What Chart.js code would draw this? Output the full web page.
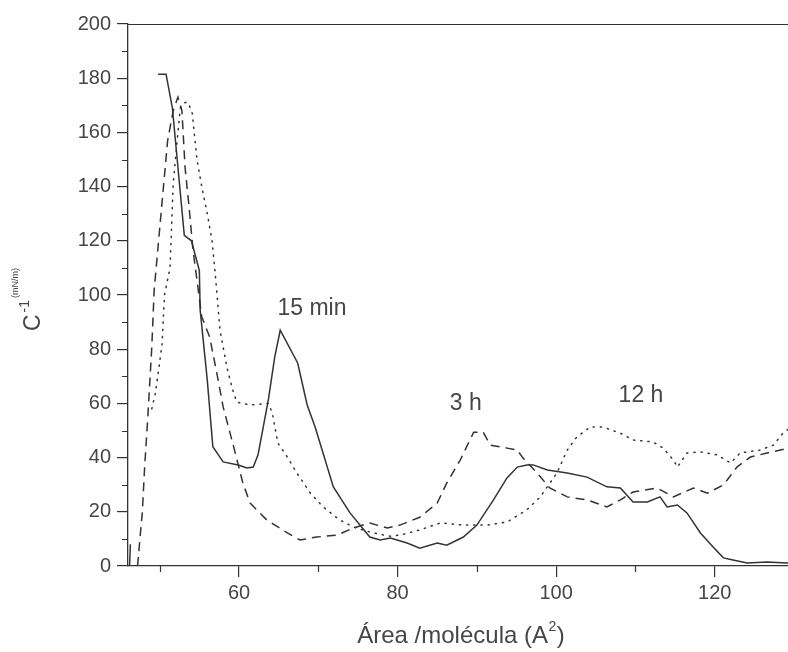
<!DOCTYPE html>
<html>
<head>
<meta charset="utf-8">
<script src="https://cdn.jsdelivr.net/npm/chart.js@4/dist/chart.umd.min.js"></script>
<style>
html,body{margin:0;padding:0;background:#fff;overflow:hidden;}
#wrap{width:800px;height:652px;}
</style>
</head>
<body>
<div id="wrap"><canvas id="c" width="800" height="652"></canvas></div>
<script>
// ---- data ----
const seriesNames = ["15 min", "3 h", "12 h"];

const solidX = [46.2, 46.3, 46.35, 49.8, 50.8, 51.6, 53.1, 54.0, 55.0, 55.1, 56.0, 56.7, 58.0, 59.9, 61.0, 61.8, 62.4, 63.7, 64.5, 65.2, 67.4, 68.6, 69.6, 71.9, 74.0, 76.5, 77.8, 79.1, 81.2, 82.8, 85.0, 86.2, 88.3, 90.0, 92.1, 93.8, 95.1, 96.3, 97.1, 98.9, 101.4, 103.9, 106.4, 108.1, 109.7, 111.5, 113.1, 114.0, 115.3, 116.5, 118.2, 119.8, 121.1, 122.3, 124.1, 126.6, 129.1, 130];
const solidY = [0, 8, null, 181.5, 181.5, 169, 122, 120, 109, 94.5, 68.6, 44, 38.4, 37.3, 36.2, 36.5, 41, 61.3, 77, 87, 74.9, 59.4, 51.3, 29.2, 19.6, 10.7, 9.6, 10.3, 8.5, 6.6, 8.5, 7.7, 10.7, 15.1, 24.4, 32.5, 36.5, 37.3, 37.3, 35.4, 34.3, 32.8, 29.2, 28.8, 23.6, 23.6, 25.5, 21.8, 22.5, 19.6, 12.2, 7, 3, 2.2, 1.1, 1.5, 1.1, 1.0];

const dashedX = [47.2, 47.8, 48.1, 48.5, 49.0, 49.3, 50.4, 51.0, 51.7, 52.3, 52.8, 53.2, 53.7, 54.2, 55.3, 56.3, 57.2, 58.0, 59.2, 60.5, 61.4, 63.5, 66.1, 67.7, 69.8, 72.4, 74.4, 76.5, 78.7, 80.3, 82.8, 85.0, 86.2, 87.9, 89.6, 90.8, 91.7, 93.8, 95.1, 95.8, 97.6, 99.2, 101.4, 103.9, 106.4, 108.1, 109.7, 112.7, 114.8, 117.3, 119.1, 121.1, 122.8, 124.5, 126.6, 128.3, 130];
const dashedY = [0, 19.6, 36.5, 55, 80.8, 101.8, 137.6, 157, 168, 173, 168, 147, 132.5, 116.6, 92, 84.5, 71.2, 58.7, 45.4, 30.5, 23.2, 17, 12.2, 9.6, 10.7, 11.4, 14, 15.9, 14, 15.1, 18, 23.2, 30.6, 39.1, 49.4, 49.4, 44.6, 43.5, 42.8, 39.9, 34.3, 28.8, 25.5, 24.4, 21.8, 24.4, 27.3, 28.8, 25.5, 28.8, 26.9, 29.9, 36.5, 40.2, 41.7, 42.8, 44];

const dottedX = [49.0, 49.4, 49.8, 50.3, 50.6, 51.3, 51.7, 52.2, 52.6, 53.2, 53.6, 54.1, 54.7, 55.3, 56.0, 56.6, 57.0, 57.6, 58.5, 59.2, 59.7, 61.4, 63.7, 64.2, 64.9, 66.1, 67.3, 69.0, 70.6, 72.7, 74.4, 76.9, 79.1, 80.3, 82.8, 85.4, 88.3, 91.3, 93.8, 96.3, 98.0, 100.1, 101.4, 102.6, 104.3, 105.9, 108.1, 109.7, 112.2, 113.5, 114.8, 115.3, 116.5, 118.2, 120.3, 122.0, 123.2, 125.7, 127.4, 128.6, 130];
const dottedY = [58, 63, 71, 82, 100, 110, 141, 157, 169, 171, 171, 167, 150, 140, 130, 120, 108, 87, 73, 65, 60.5, 59.4, 60, 56.5, 45.4, 40.2, 34.3, 26.9, 21.8, 17, 14.4, 12.2, 11, 11.4, 13.3, 15.9, 15.1, 15.1, 16.2, 20.7, 25.5, 34.3, 42.8, 47.6, 51.3, 51.3, 49, 46.5, 45.8, 43.5, 39.1, 36.5, 41.7, 42.1, 41, 38, 41.7, 42.8, 44.6, 49, 52];

const xMajorTicks = [60, 80, 100, 120];
const xMinorTicks = [50, 70, 90, 110, 130];
const yMajorTicks = [0, 20, 40, 60, 80, 100, 120, 140, 160, 180, 200];
const yMinorTicks = [10, 30, 50, 70, 90, 110, 130, 150, 170, 190];

const noteText = ["15 min", "3 h", "12 h"];
const noteX = [69.2, 88.6, 110.7];
const noteY = [95.0, 59.8, 62.7];

const xTitleMain = "Área /molécula (A";
const xTitleSup = "2";
const yTitleMain = "C";
const yTitleSup = "-1";
const yTitleUnit = "(mN/m)";

// ---- chart ----
const FONT = "'Liberation Sans', Arial, sans-serif";
const LINE = '#333333';
const TEXT = '#464646';
const pts = (xs, ys) => xs.map((x, i) => ({x: x, y: ys[i]}));

const extras = {
  id: 'extras',
  afterDraw(chart) {
    const {ctx, chartArea: a, scales: {x, y}} = chart;
    ctx.save();
    ctx.strokeStyle = LINE;
    ctx.lineWidth = 1.2;
    // top frame line
    ctx.beginPath();
    ctx.moveTo(a.left, a.top + 0.5);
    ctx.lineTo(a.right, a.top + 0.5);
    ctx.stroke();
    // minor ticks
    ctx.beginPath();
    xMinorTicks.forEach(v => {
      const px = Math.round(x.getPixelForValue(v)) + 0.5;
      ctx.moveTo(px, a.bottom); ctx.lineTo(px, a.bottom + 6);
    });
    yMinorTicks.forEach(v => {
      const py = Math.round(y.getPixelForValue(v)) + 0.5;
      ctx.moveTo(a.left - 6, py); ctx.lineTo(a.left, py);
    });
    ctx.stroke();

    // annotations
    ctx.fillStyle = TEXT;
    ctx.font = '23px ' + FONT;
    ctx.textAlign = 'center';
    ctx.textBaseline = 'middle';
    noteText.forEach((t, i) => {
      ctx.fillText(t, x.getPixelForValue(noteX[i]), y.getPixelForValue(noteY[i]));
    });

    // x title
    ctx.textBaseline = 'alphabetic';
    ctx.textAlign = 'left';
    ctx.font = '24px ' + FONT;
    const wMain = ctx.measureText(xTitleMain).width;
    ctx.font = '14px ' + FONT;
    const wSup = ctx.measureText(xTitleSup).width;
    ctx.font = '24px ' + FONT;
    const wClose = ctx.measureText(')').width;
    const total = wMain + wSup + 1 + wClose;
    let tx = (a.left + a.right) / 2 - total / 2;
    const base = 643;
    ctx.fillText(xTitleMain, tx, base);
    tx += wMain;
    ctx.font = '14px ' + FONT;
    ctx.fillText(xTitleSup, tx + 0.5, base - 12);
    tx += wSup + 1;
    ctx.font = '24px ' + FONT;
    ctx.fillText(')', tx, base);

    // y title (rotated)
    ctx.translate(40, 331);
    ctx.rotate(-Math.PI / 2);
    ctx.font = '23px ' + FONT;
    ctx.fillText(yTitleMain, 0, 0);
    let rx = ctx.measureText(yTitleMain).width + 2;
    ctx.font = '14px ' + FONT;
    ctx.fillText(yTitleSup, rx, -11);
    rx += ctx.measureText(yTitleSup).width + 2;
    ctx.font = '9px ' + FONT;
    ctx.fillText(yTitleUnit, rx, -22);
    ctx.restore();
  }
};

const ds = (data, dash) => ({
  data: data,
  borderColor: LINE,
  borderWidth: 1.5,
  borderDash: dash,
  borderCapStyle: dash.length && dash[0] < 3 ? 'round' : 'butt',
  pointRadius: 0,
  tension: 0,
  fill: false,
  spanGaps: false
});

new Chart(document.getElementById('c'), {
  type: 'line',
  data: {
    datasets: [
      Object.assign({label: seriesNames[0]}, ds(pts(solidX, solidY), [])),
      Object.assign({label: seriesNames[1]}, ds(pts(dashedX, dashedY), [9, 6])),
      Object.assign({label: seriesNames[2]}, ds(pts(dottedX, dottedY), [1.2, 6]))
    ]
  },
  options: {
    responsive: false,
    animation: false,
    devicePixelRatio: 1,
    layout: {padding: {top: 24, right: 6, left: 0, bottom: 0}},
    plugins: {legend: {display: false}, tooltip: {enabled: false}},
    scales: {
      x: {
        type: 'linear',
        min: 46, max: 130,
        afterBuildTicks: s => { s.ticks = xMajorTicks.map(v => ({value: v})); },
        afterFit: s => { s.height = 86; },
        ticks: {
          font: {family: FONT, size: 20},
          color: TEXT,
          padding: 4,
          maxRotation: 0,
          callback: v => String(v)
        },
        grid: {drawOnChartArea: false, drawTicks: true, tickLength: 11, color: LINE, lineWidth: 1.2},
        border: {display: true, color: LINE, width: 1.3}
      },
      y: {
        type: 'linear',
        min: 0, max: 200,
        afterBuildTicks: s => { s.ticks = yMajorTicks.map(v => ({value: v})); },
        afterFit: s => { s.width = 128; },
        ticks: {
          font: {family: FONT, size: 20},
          color: TEXT,
          padding: 6,
          callback: v => String(v)
        },
        grid: {drawOnChartArea: false, drawTicks: true, tickLength: 11, color: LINE, lineWidth: 1.2},
        border: {display: true, color: LINE, width: 1.3}
      }
    }
  },
  plugins: [extras]
});
</script>
</body>
</html>
